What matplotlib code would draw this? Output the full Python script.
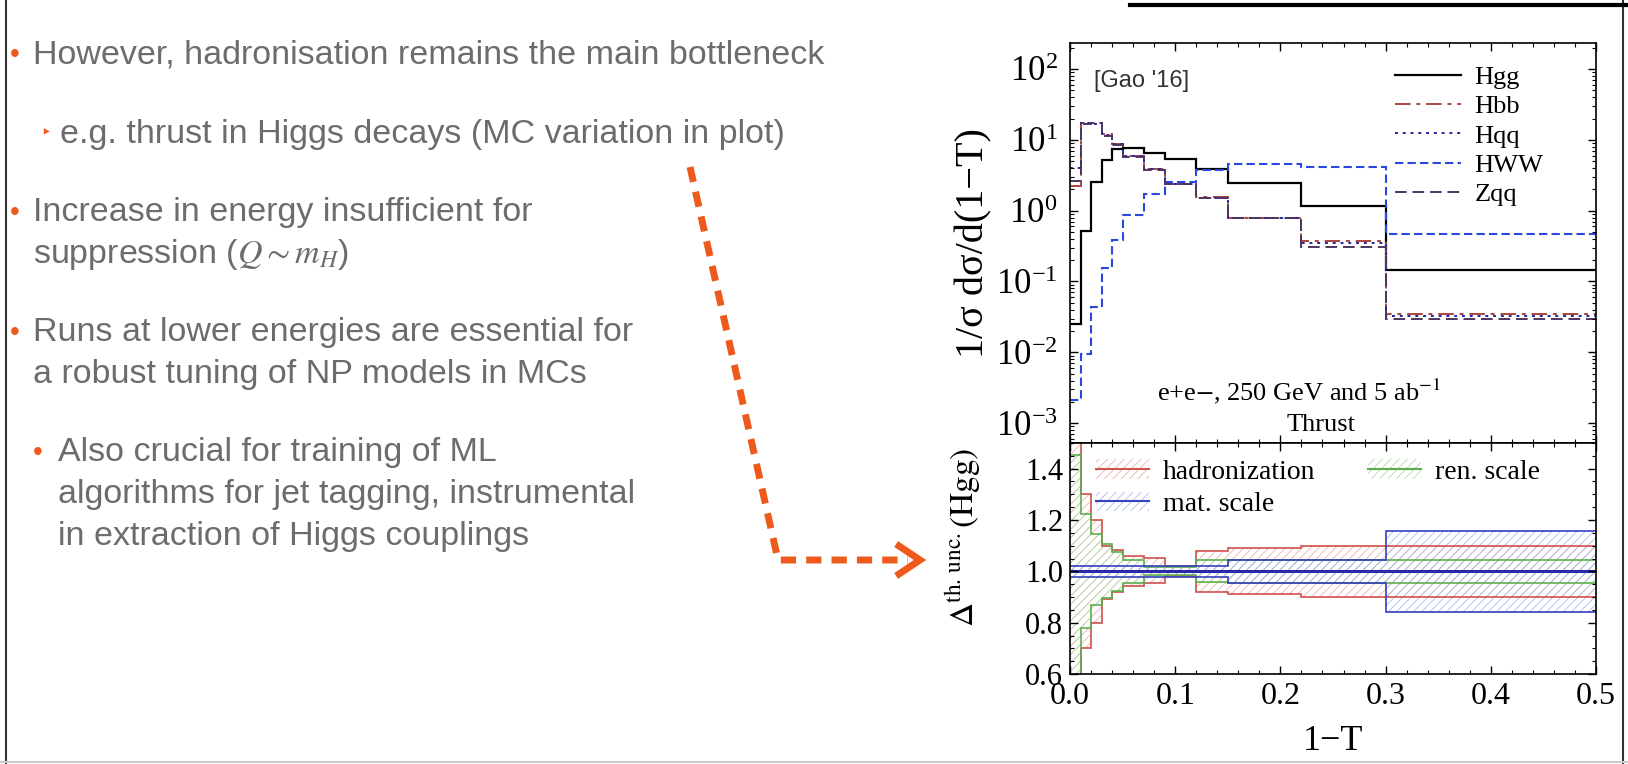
import numpy as np
import matplotlib
matplotlib.use("Agg")
import matplotlib.pyplot as plt
from matplotlib.lines import Line2D
from matplotlib.patches import Patch
from matplotlib.ticker import MultipleLocator, LogLocator, NullFormatter, FormatStrFormatter

W, H = 1628, 764

plt.rcParams['font.family'] = ['Liberation Serif', 'DejaVu Serif']
plt.rcParams['mathtext.fontset'] = 'stix'
plt.rcParams['hatch.linewidth'] = 0.6

# bin edges in 1-T
edges = [0.0, 0.01, 0.02, 0.03, 0.04, 0.05, 0.07, 0.09, 0.12, 0.15, 0.22, 0.30, 0.50]

# 1/sigma dsigma/d(1-T)
hgg = [0.025, 0.51, 2.5, 5.2, 7.4, 7.7, 6.6, 5.3, 3.9, 2.42, 1.15, 0.143]
hbb = [2.2, 17.5, 17.5, 12.0, 8.8, 5.9, 3.9, 2.4, 1.55, 0.80, 0.37, 0.035]
hqq = [4.0, 17.5, 17.0, 11.8, 8.6, 5.9, 3.85, 2.38, 1.52, 0.79, 0.35, 0.033]
hww = [0.0021, 0.0095, 0.043, 0.155, 0.38, 0.88, 1.7, 2.5, 3.75, 4.6, 4.15, 0.47]
zqq = [2.6, 17.0, 17.5, 11.5, 8.5, 5.8, 3.8, 2.35, 1.5, 0.78, 0.31, 0.030]

# uncertainty bands on Hgg
had_up = [1.60, 1.30, 1.20, 1.10, 1.085, 1.061, 1.052, 1.02, 1.081, 1.09, 1.10, 1.10]
had_dn = [0.40, 0.70, 0.80, 0.894, 0.918, 0.944, 0.953, 0.98, 0.92, 0.913, 0.90, 0.90]
ren_up = [1.455, 1.225, 1.145, 1.105, 1.075, 1.046, 1.015, 1.015, 1.046, 1.046, 1.046, 1.046]
ren_dn = [0.40, 0.78, 0.868, 0.898, 0.924, 0.953, 0.985, 0.985, 0.957, 0.955, 0.955, 0.954]
mat_up = [1.022, 1.022, 1.022, 1.022, 1.022, 1.022, 1.022, 1.022, 1.022, 1.046, 1.046, 1.159]
mat_dn = [0.978, 0.978, 0.978, 0.978, 0.978, 0.978, 0.978, 0.978, 0.978, 0.954, 0.954, 0.843]
center = [1.0] * 12

bullets = [
    ("•", "However, hadronisation remains the main bottleneck", 15, 33, 55),
    ("‣", "e.g. thrust in Higgs decays (MC variation in plot)", 46, 60, 134),
    ("•", "Increase in energy insufficient for", 15, 33, 213),
    ("", r"suppression ($Q \sim m_H$)", 15, 33, 254),
    ("•", "Runs at lower energies are essential for", 15, 33, 333),
    ("", "a robust tuning of NP models in MCs", 15, 33, 375),
    ("•", "Also crucial for training of ML", 38, 58, 453),
    ("", "algorithms for jet tagging, instrumental", 38, 58, 495),
    ("", "in extraction of Higgs couplings", 38, 58, 537),
]

ORANGE = '#ee5a1c'
GREY = '#6c6c6c'


def box(x0, y0, x1, y1):
    return [x0 / W, 1 - y1 / H, (x1 - x0) / W, (y1 - y0) / H]


def fx(x):
    return x / W


def fy(y):
    return 1 - y / H


fig = plt.figure(figsize=(W / 100, H / 100), dpi=100)

# slide text
for b, txt, bx, tx, y in bullets:
    if b:
        fig.text(fx(bx), fy(y), b, color=ORANGE, fontsize=20 if b == "•" else 13,
                 family=['Liberation Sans', 'DejaVu Sans'], ha='center', va='center')
    fig.text(fx(tx), fy(y), txt, color=GREY, fontsize=24.5,
             family=['Liberation Sans', 'DejaVu Sans'], ha='left', va='center')

# dashed orange arrow
px_x = [690, 778, 908]
px_y = [167, 560, 560]
fig.add_artist(Line2D([fx(v) for v in px_x], [fy(v) for v in px_y], color=ORANGE,
                      lw=5, ls=(0, (2.2, 1.45)), transform=fig.transFigure))
fig.add_artist(Line2D([fx(899), fx(920), fx(899)], [fy(546), fy(560), fy(574)],
                      color=ORANGE, lw=5, transform=fig.transFigure,
                      solid_joinstyle='miter'))

# slide frame
fig.add_artist(Line2D([fx(6), fx(6)], [0, 1], color='#333333', lw=1.5, transform=fig.transFigure))
fig.add_artist(Line2D([fx(1623), fx(1623)], [0, 1], color='#333333', lw=1.5, transform=fig.transFigure))
fig.add_artist(Line2D([fx(1130), 1], [fy(5), fy(5)], color='black', lw=3, transform=fig.transFigure))
fig.add_artist(Line2D([0, 1], [fy(762), fy(762)], color='#cccccc', lw=1.5, transform=fig.transFigure))

# --- top panel
ax1 = fig.add_axes(box(1070, 43, 1596, 443))
ax1.stairs(hgg, edges, baseline=None, color='black', lw=1.6, label='Hgg')
ax1.stairs(hbb, edges, baseline=None, color='#a8453e', lw=1.4, ls=(0, (8, 3, 2, 3)), label='Hbb')
ax1.stairs(hqq, edges, baseline=None, color='#2424a0', lw=1.4, ls=(0, (1.5, 2.5)), label='Hqq')
ax1.stairs(hww, edges, baseline=None, color='#2a48e0', lw=1.5, ls=(0, (4, 2)), label='HWW')
ax1.stairs(zqq, edges, baseline=None, color='#4d3560', lw=1.4, ls=(0, (6, 3)), label='Zqq')
ax1.set_yscale('log')
ax1.set_xlim(0, 0.5)
ax1.set_ylim(10 ** -3.28, 10 ** 2.367)
ax1.yaxis.set_major_locator(LogLocator(base=10, numticks=10))
ax1.yaxis.set_minor_locator(LogLocator(base=10, subs=np.arange(2, 10), numticks=20))
ax1.yaxis.set_minor_formatter(NullFormatter())
ax1.xaxis.set_major_locator(MultipleLocator(0.1))
ax1.xaxis.set_minor_locator(MultipleLocator(0.02))
ax1.tick_params(axis='x', labelbottom=False)
ax1.tick_params(axis='y', labelsize=25, pad=9)
ax1.set_ylabel('1/σ dσ/d(1−T)', fontsize=29, labelpad=2)

ax1.text(0.045, 0.905, "[Gao '16]", transform=ax1.transAxes, fontsize=17,
         family=['Liberation Sans', 'DejaVu Sans'], color='#333333', va='center')
ax1.text(0.435, 0.128, r'e+e$-$, 250 GeV and 5 ab$^{-1}$', transform=ax1.transAxes,
         fontsize=19, ha='center', va='center')
ax1.text(0.478, 0.045, 'Thrust', transform=ax1.transAxes, fontsize=19, ha='center', va='center')
ax1.legend(loc='upper right', bbox_to_anchor=(0.935, 0.99), frameon=False, fontsize=19,
           handlelength=2.5, handletextpad=0.5, labelspacing=0.22, borderpad=0.2)

# --- bottom panel
ax2 = fig.add_axes(box(1070, 443, 1596, 674))
bands = [
    (had_up, had_dn, '#eeb0b0', '#d0504a', 'hadronization'),
    (ren_up, ren_dn, '#b4dcac', '#5cb04c', 'ren. scale'),
    (mat_up, mat_dn, '#aebcee', '#3440c0', 'mat. scale'),
]
for up, dn, light, dark, name in bands:
    ax2.stairs(up, edges, baseline=dn, fill=True, facecolor='none', edgecolor=light,
               hatch='////', lw=0)
for up, dn, light, dark, name in bands:
    ax2.stairs(up, edges, baseline=None, color=dark, lw=1.2)
    ax2.stairs(dn, edges, baseline=None, color=dark, lw=1.2)
ax2.stairs(center, edges, baseline=None, color='#2a2aa8', lw=2.2)

ax2.set_xlim(0, 0.5)
ax2.set_ylim(0.6, 1.5)
ax2.xaxis.set_major_locator(MultipleLocator(0.1))
ax2.xaxis.set_minor_locator(MultipleLocator(0.02))
ax2.yaxis.set_major_locator(MultipleLocator(0.2))
ax2.yaxis.set_minor_locator(MultipleLocator(0.05))
ax2.xaxis.set_major_formatter(FormatStrFormatter('%.1f'))
ax2.yaxis.set_major_formatter(FormatStrFormatter('%.1f'))
ax2.tick_params(axis='x', labelsize=23, pad=6)
ax2.tick_params(axis='y', labelsize=22, pad=5)
ax2.set_xlabel('1−T', fontsize=26, labelpad=10)
ax2.set_ylabel(r'$\Delta^{\mathrm{th.\,unc.}}(\mathrm{Hgg})$', fontsize=24)
ax2.yaxis.set_label_coords(-0.165, 0.59)

handles = [(Patch(facecolor='none', edgecolor=l, hatch='////', lw=0), Line2D([], [], color=d, lw=1.5))
           for _, _, l, d, _ in bands]
labels = [b[4] for b in bands]
order = [0, 2, 1]
ax2.legend([handles[i] for i in order], [labels[i] for i in order], ncol=2,
           loc='upper left', bbox_to_anchor=(0.01, 1.02), frameon=False, fontsize=20,
           handlelength=1.9, handletextpad=0.5, columnspacing=1.9, labelspacing=0.25,
           borderpad=0.25)

for ax in (ax1, ax2):
    ax.tick_params(which='both', direction='in', top=True, right=True)
    ax.tick_params(which='major', length=6, width=1)
    ax.tick_params(which='minor', length=3, width=0.8)
    for s in ax.spines.values():
        s.set_linewidth(1.2)

fig.savefig('out.png', dpi=100)
